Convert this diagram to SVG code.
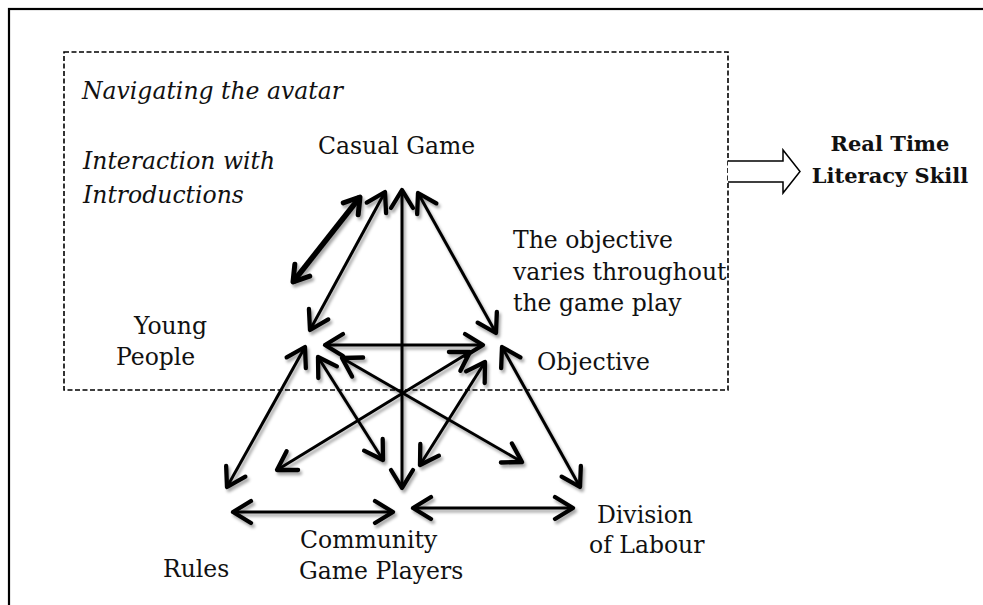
<svg xmlns="http://www.w3.org/2000/svg" width="983" height="605" viewBox="0 0 983 605">
  <style>
    .lbl { font-family: "DejaVu Serif", "Liberation Serif", serif; font-size: 23.5px; fill: #111; }
    .it { font-style: italic; }
    .bold { font-weight: bold; font-size: 21px; }
    .conn { fill: none; stroke: #000; stroke-width: 3; marker-start: url(#chev); marker-end: url(#chev); }
    .thick { stroke-width: 5.5; marker-start: url(#chevBig); marker-end: url(#chevBig); }
  </style>
  <defs>
    <marker id="chev" markerUnits="userSpaceOnUse" viewBox="-24 -15 28 30" markerWidth="28" markerHeight="30" refX="0" refY="0" orient="auto-start-reverse" overflow="visible">
      <path d="M -18,-11 L 0,0 L -18,11" fill="none" stroke="#000" stroke-width="4.3" stroke-linecap="round" stroke-linejoin="round"/>
    </marker>
    <marker id="chevBig" markerUnits="userSpaceOnUse" viewBox="-24 -15 28 30" markerWidth="28" markerHeight="30" refX="0" refY="0" orient="auto-start-reverse" overflow="visible">
      <path d="M -15,-9.5 L 0,0 L -15,9.5" fill="none" stroke="#000" stroke-width="5" stroke-linecap="round" stroke-linejoin="round"/>
    </marker>
    <filter id="soft" x="-20%" y="-20%" width="140%" height="140%">
      <feDropShadow dx="2" dy="3" stdDeviation="1.6" flood-color="#000" flood-opacity="0.35"/>
    </filter>
  </defs>

  <rect width="983" height="605" fill="#fff"/>
  <!-- outer frame, running off the right and bottom edges -->
  <rect x="9" y="9" width="1000" height="700" fill="none" stroke="#000" stroke-width="2.2"/>
  <!-- dashed activity boundary -->
  <rect x="64" y="52" width="664" height="338" fill="none" stroke="#000" stroke-width="1.6" stroke-dasharray="5 2.5"/>

  <g id="connectors" filter="url(#soft)">
    <line class="conn thick" x1="293" y1="282" x2="360" y2="197"/>
    <line class="conn" x1="385" y1="192" x2="310" y2="330"/>
    <line class="conn" x1="402" y1="190" x2="402" y2="488"/>
    <line class="conn" x1="418" y1="193" x2="496" y2="333"/>
    <line class="conn" x1="325" y1="345" x2="483" y2="345"/>
    <line class="conn" x1="305" y1="347" x2="227" y2="487"/>
    <line class="conn" x1="318" y1="357" x2="383" y2="460"/>
    <line class="conn" x1="342" y1="358" x2="522" y2="462"/>
    <line class="conn" x1="277" y1="470" x2="470" y2="352"/>
    <line class="conn" x1="420" y1="465" x2="485" y2="362"/>
    <line class="conn" x1="502" y1="347" x2="580" y2="487"/>
    <line class="conn" x1="233" y1="512" x2="393" y2="512"/>
    <line class="conn" x1="413" y1="508" x2="573" y2="508"/>
  </g>

  <!-- hollow outcome arrow -->
  <g id="outcome-arrow">
    <path d="M 728,161 L 783,161 L 783,150 L 800,171.5 L 783,193 L 783,182 L 728,182" fill="#fff" stroke="#000" stroke-width="1.5" stroke-linejoin="miter"/>
  </g>

  <g id="navigating">
    <text class="lbl it" x="82" y="99">Navigating the avatar</text>
  </g>
  <g id="interaction">
    <text class="lbl it" x="83" y="169">Interaction with</text>
    <text class="lbl it" x="83" y="203">Introductions</text>
  </g>
  <g id="casual-game">
    <text class="lbl" x="318" y="154">Casual Game</text>
  </g>
  <g id="real-time">
    <text class="lbl bold" x="890" y="151" text-anchor="middle">Real Time</text>
    <text class="lbl bold" x="890" y="183" text-anchor="middle">Literacy Skill</text>
  </g>
  <g id="objective-note">
    <text class="lbl" x="513" y="248">The objective</text>
    <text class="lbl" x="513" y="280">varies throughout</text>
    <text class="lbl" x="513" y="311">the game play</text>
  </g>
  <g id="young-people">
    <text class="lbl" x="134" y="334">Young</text>
    <text class="lbl" x="116" y="365">People</text>
  </g>
  <g id="objective">
    <text class="lbl" x="537" y="370">Objective</text>
  </g>
  <g id="rules">
    <text class="lbl" x="163" y="577">Rules</text>
  </g>
  <g id="community">
    <text class="lbl" x="300" y="548">Community</text>
    <text class="lbl" x="299" y="579">Game Players</text>
  </g>
  <g id="division">
    <text class="lbl" x="597" y="523">Division</text>
    <text class="lbl" x="589" y="553">of Labour</text>
  </g>
</svg>
